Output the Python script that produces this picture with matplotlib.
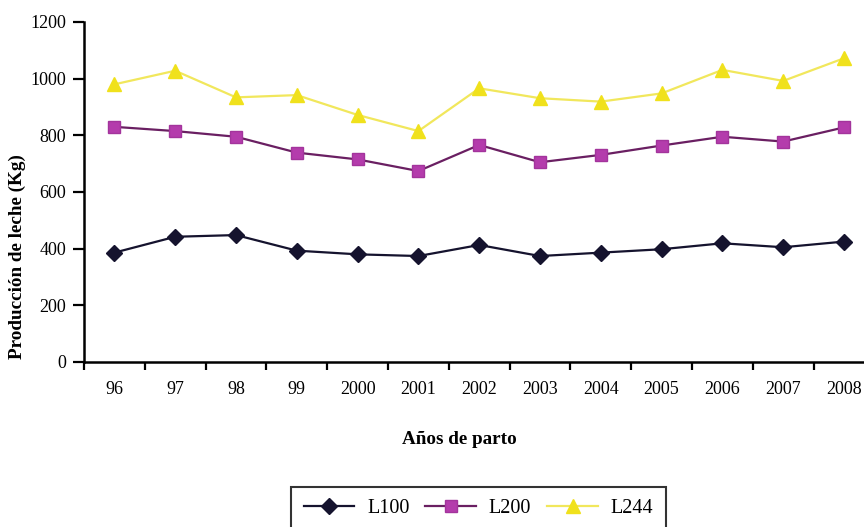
import matplotlib
matplotlib.use("Agg")
import matplotlib.pyplot as plt
import numpy as np

# Milk production per calving year for three lactation groups
years = ["96", "97", "98", "99", "2000", "2001", "2002", "2003",
         "2004", "2005", "2006", "2007", "2008"]
l100 = [386, 442, 448, 393, 380, 374, 413, 374, 386, 398, 419, 405, 425]
l200 = [830, 815, 795, 739, 715, 674, 766, 705, 731, 764, 795, 778, 828]
l244 = [980, 1028, 934, 942, 872, 815, 966, 931, 919, 948, 1031, 992, 1072]

plt.rcParams["font.family"] = ["Liberation Serif", "DejaVu Serif"]

fig = plt.figure(figsize=(8.64, 5.27), dpi=100)
ax = fig.add_axes([84 / 864, 165 / 527, 790.4 / 864, 340 / 527])

x = np.arange(len(years))
ax.plot(x, l100, color="#15132e", lw=1.6, marker="D", ms=8,
        mfc="#15132e", mec="#15132e", label="L100", zorder=3)
ax.plot(x, l200, color="#6a1f62", lw=1.6, marker="s", ms=8,
        mfc="#b43cac", mec="#a3349c", label="L200", zorder=3)
ax.plot(x, l244, color="#f1e75c", lw=1.6, marker="^", ms=9.5,
        mfc="#f0e11c", mec="#f0e11c", label="L244", zorder=3)

ax.set_xlim(-0.5, len(years) - 0.5)
ax.set_ylim(0, 1200)
ax.set_yticks(np.arange(0, 1201, 200))

# category labels centred, tick marks on the category boundaries
ax.set_xticks(x)
ax.set_xticklabels(years)
ax.set_xticks(np.arange(-0.5, len(years)), minor=True)
ax.tick_params(axis="x", which="major", length=0, pad=14, labelsize=13)
ax.tick_params(axis="x", which="minor", length=6, width=1.6, direction="out")
ax.tick_params(axis="y", which="major", length=8, width=1.6, direction="out",
               labelsize=13, pad=5)

for side in ("top", "right"):
    ax.spines[side].set_visible(False)
for side in ("left", "bottom"):
    ax.spines[side].set_linewidth(1.8)

fig.text(459 / 864, 1 - 440 / 527, "Años de parto", ha="center", va="center",
         fontsize=13.8, fontweight="bold")
fig.text(17 / 864, 1 - 257 / 527, "Producción de leche (Kg)", ha="center",
         va="center", rotation=90, fontsize=13.8, fontweight="bold")

leg = fig.legend(loc="upper center", bbox_to_anchor=(478.5 / 864, 1 - 487 / 527),
                 ncol=3, fontsize=14.5, frameon=True, fancybox=False,
                 edgecolor="black", handlelength=2.5, handletextpad=0.65,
                 columnspacing=0.8, borderpad=0.6, borderaxespad=0)
leg.get_frame().set_linewidth(1.5)

fig.savefig("out.png", dpi=100)
